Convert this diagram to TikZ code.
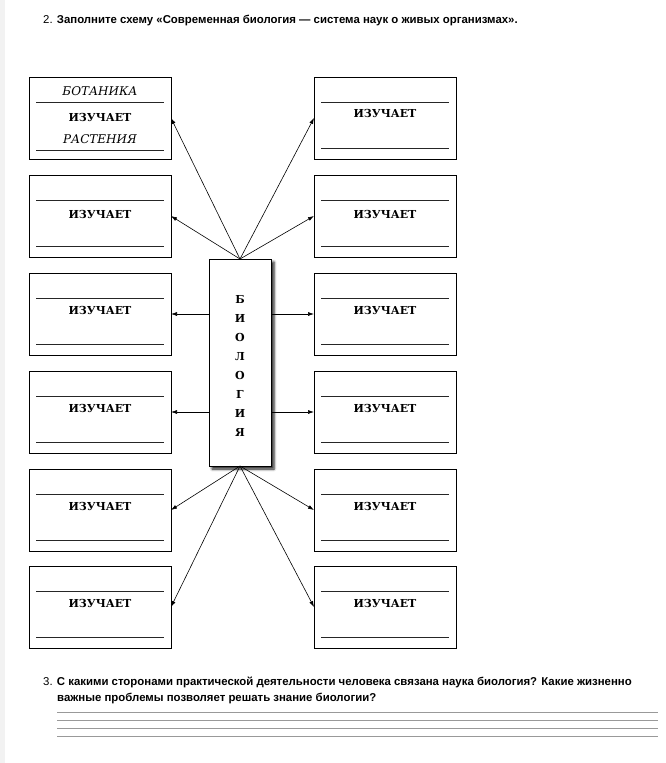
\documentclass[tikz,border=0pt]{standalone}
\usepackage{fontspec}
\setmainfont{Liberation Sans}
\newfontfamily\boxfont{DejaVu Serif}
\usepackage{tikz}
\usetikzlibrary{shadows.blur,arrows.meta}

\begin{document}
\begin{tikzpicture}[x=1pt,y=-1pt,>={Latex[length=6pt,width=4pt]},
    card/.style={draw, line width=0.7pt, minimum width=142pt, minimum height=82pt, inner sep=0pt, outer sep=0pt},
    rule/.style={line width=0.6pt, black!85},
    word/.style={font=\boxfont\bfseries\fontsize{11}{12}\selectfont},
    science/.style={font=\boxfont\itshape\fontsize{12}{13}\selectfont},
    link/.style={->, line width=0.6pt},
    task/.style={anchor=base west, inner sep=0pt, font=\fontsize{11.4}{14}\selectfont},
    answer/.style={line width=0.8pt, black!40}]
\useasboundingbox (0,0) rectangle (666,763);
\fill[black!5] (0,0) rectangle (5,763);

\node[task] (title) at (43,23) {2. \textbf{Заполните схему «Современная биология — система наук о живых организмах».}};

% left column
\begin{scope}[shift={(29,77)}]
    \node[card] (L1) at (71,41) {};
    \draw[rule] (7,25) -- (135,25);
    \draw[rule] (7,73) -- (135,73);
    \node[science] (L1a) at (71,14) {БОТАНИКА};
    \node[word] (L1w) at (71,40) {ИЗУЧАЕТ};
    \node[science] (L1b) at (71,62) {РАСТЕНИЯ};
\end{scope}

\begin{scope}[shift={(29,175)}]
    \node[card] (L2) at (71,41) {};
    \draw[rule] (7,25) -- (135,25);
    \draw[rule] (7,71) -- (135,71);
    \node[word] (L2w) at (71,39) {ИЗУЧАЕТ};
\end{scope}

\begin{scope}[shift={(29,273)}]
    \node[card] (L3) at (71,41) {};
    \draw[rule] (7,25) -- (135,25);
    \draw[rule] (7,71) -- (135,71);
    \node[word] (L3w) at (71,37) {ИЗУЧАЕТ};
\end{scope}

\begin{scope}[shift={(29,371)}]
    \node[card] (L4) at (71,41) {};
    \draw[rule] (7,25) -- (135,25);
    \draw[rule] (7,71) -- (135,71);
    \node[word] (L4w) at (71,37) {ИЗУЧАЕТ};
\end{scope}

\begin{scope}[shift={(29,469)}]
    \node[card] (L5) at (71,41) {};
    \draw[rule] (7,25) -- (135,25);
    \draw[rule] (7,71) -- (135,71);
    \node[word] (L5w) at (71,37) {ИЗУЧАЕТ};
\end{scope}

\begin{scope}[shift={(29,566)}]
    \node[card] (L6) at (71,41) {};
    \draw[rule] (7,25) -- (135,25);
    \draw[rule] (7,71) -- (135,71);
    \node[word] (L6w) at (71,37) {ИЗУЧАЕТ};
\end{scope}

% right column
\begin{scope}[shift={(314,77)}]
    \node[card] (R1) at (71,41) {};
    \draw[rule] (7,25) -- (135,25);
    \draw[rule] (7,71) -- (135,71);
    \node[word] (R1w) at (71,36) {ИЗУЧАЕТ};
\end{scope}

\begin{scope}[shift={(314,175)}]
    \node[card] (R2) at (71,41) {};
    \draw[rule] (7,25) -- (135,25);
    \draw[rule] (7,71) -- (135,71);
    \node[word] (R2w) at (71,39) {ИЗУЧАЕТ};
\end{scope}

\begin{scope}[shift={(314,273)}]
    \node[card] (R3) at (71,41) {};
    \draw[rule] (7,25) -- (135,25);
    \draw[rule] (7,71) -- (135,71);
    \node[word] (R3w) at (71,37) {ИЗУЧАЕТ};
\end{scope}

\begin{scope}[shift={(314,371)}]
    \node[card] (R4) at (71,41) {};
    \draw[rule] (7,25) -- (135,25);
    \draw[rule] (7,71) -- (135,71);
    \node[word] (R4w) at (71,37) {ИЗУЧАЕТ};
\end{scope}

\begin{scope}[shift={(314,469)}]
    \node[card] (R5) at (71,41) {};
    \draw[rule] (7,25) -- (135,25);
    \draw[rule] (7,71) -- (135,71);
    \node[word] (R5w) at (71,37) {ИЗУЧАЕТ};
\end{scope}

\begin{scope}[shift={(314,566)}]
    \node[card] (R6) at (71,41) {};
    \draw[rule] (7,25) -- (135,25);
    \draw[rule] (7,71) -- (135,71);
    \node[word] (R6w) at (71,37) {ИЗУЧАЕТ};
\end{scope}

% the middle column
\node[draw, fill=white, line width=0.8pt, minimum width=62pt, minimum height=207pt, inner sep=0pt, outer sep=0pt,
      blur shadow={shadow xshift=3pt, shadow yshift=-3pt, shadow blur radius=2.5pt, shadow opacity=90}] (bio) at (240,362.5) {};
\node[align=center, font=\boxfont\bfseries\fontsize{11}{19}\selectfont] (bioword) at (240,366) {Б\\И\\О\\Л\\О\\Г\\И\\Я};

\draw[link] (bio.north) -- (L1.east);
\draw[link] (bio.north) -- (L2.east);
\draw[link] (bio.north) -- (R1.west);
\draw[link] (bio.north) -- (R2.west);
\draw[link] (bio.west |- L3.east) -- (L3.east);
\draw[link] (bio.west |- L4.east) -- (L4.east);
\draw[link] (bio.east |- R3.west) -- (R3.west);
\draw[link] (bio.east |- R4.west) -- (R4.west);
\draw[link] (bio.south) -- (L5.east);
\draw[link] (bio.south) -- (L6.east);
\draw[link] (bio.south) -- (R5.west);
\draw[link] (bio.south) -- (R6.west);

\node[task] (quest) at (43,685) {3. \textbf{С какими сторонами практической деятельности человека связана наука биология? Какие жизненно}};
\node[task] (quest2) at (57,701) {\textbf{важные проблемы позволяет решать знание биологии?}};

\draw[answer] (57,712) -- (658,712);
\draw[answer] (57,720) -- (658,720);
\draw[answer] (57,728) -- (658,728);
\draw[answer] (57,736) -- (658,736);
\end{tikzpicture}
\end{document}
